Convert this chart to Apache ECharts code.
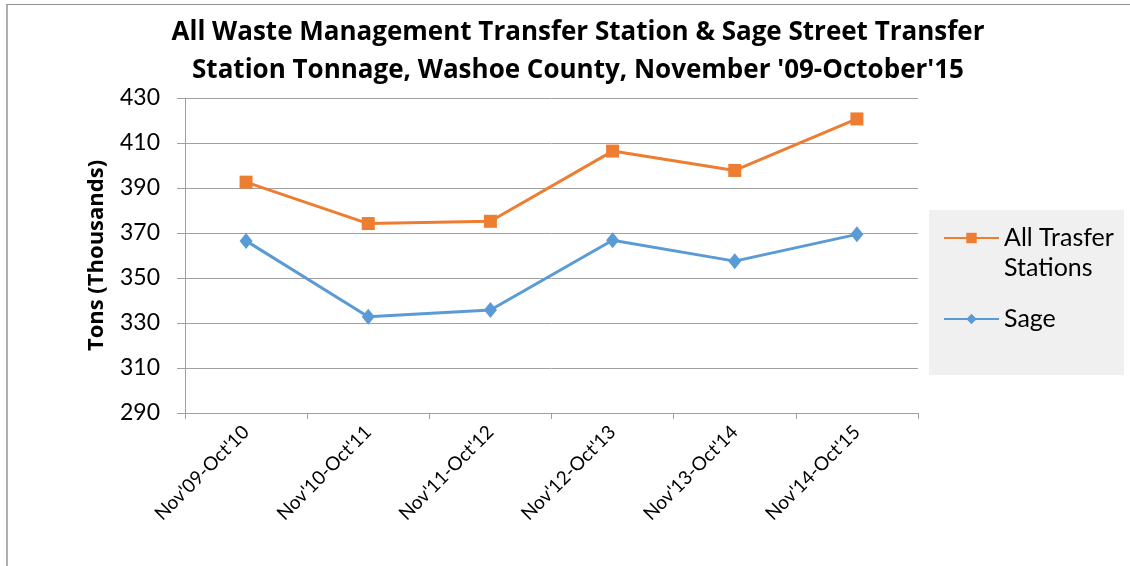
<!DOCTYPE html>
<html>
<head>
<meta charset="utf-8">
<script src="https://cdn.jsdelivr.net/npm/echarts@6/dist/echarts.min.js"></script>
<style>
  html, body { margin: 0; padding: 0; background: #fff; overflow: hidden; }
  #chart { position: absolute; left: 0; top: 0; width: 1130px; height: 566px; }
  #frame { position: absolute; left: 6px; top: 4px; width: 1200px; height: 700px;
           border-left: 2px solid #b0b0b0; border-top: 1px solid #909090; }
</style>
</head>
<body>
<div id="frame"></div>
<div id="chart"></div>
<script>
// 数据
const categories = ["Nov'09-Oct'10", "Nov'10-Oct'11", "Nov'11-Oct'12", "Nov'12-Oct'13", "Nov'13-Oct'14", "Nov'14-Oct'15"];
const allStations = [392.6, 374.2, 375.2, 406.4, 397.8, 420.7];
const sage = [366.5, 332.8, 335.8, 366.8, 357.5, 369.4];

const font = 'Lato, "Open Sans", sans-serif';
const boldFont = '"Open Sans", Lato, sans-serif';
const chart = echarts.init(document.getElementById('chart'));

const option = {
  animation: false,
  textStyle: { fontFamily: font },
  title: {
    text: "All Waste Management Transfer Station & Sage Street Transfer\nStation Tonnage, Washoe County, November '09-October'15",
    left: 573, textAlign: 'center', top: 9,
    textStyle: { fontFamily: boldFont, fontSize: 26, fontWeight: 'bold', color: '#000', lineHeight: 38 }
  },
  graphic: [{
    type: 'rect', left: 929, top: 210,
    shape: { width: 195, height: 165 },
    style: { fill: '#f0f0f0' }
  }],
  legend: {
    orient: 'vertical', left: 938, top: 188,
    itemWidth: 55, itemHeight: 13, itemGap: 21,
    textStyle: { fontFamily: font, fontSize: 25, color: '#000', lineHeight: 30 },
    data: [
      { name: ' \nAll Trasfer\nStations' },
      { name: 'Sage' }
    ]
  },
  grid: { left: 185, right: 212, top: 98, bottom: 153 },
  xAxis: {
    type: 'category', data: categories, boundaryGap: true,
    axisLine: { lineStyle: { color: '#a0a0a0', width: 1 } },
    axisTick: { show: true, alignWithLabel: false, length: 6, lineStyle: { color: '#a0a0a0' } },
    axisLabel: { rotate: 45, fontSize: 19, color: '#000', margin: 16, fontFamily: font }
  },
  yAxis: {
    type: 'value', min: 290, max: 430, interval: 20,
    name: 'Tons (Thousands)', nameLocation: 'middle', nameGap: 77,
    nameTextStyle: { fontSize: 22, fontWeight: 'bold', color: '#000', fontFamily: boldFont },
    axisLine: { show: true, lineStyle: { color: '#a0a0a0' } },
    axisTick: { show: true, length: 8, lineStyle: { color: '#a0a0a0' } },
    axisLabel: { fontSize: 23, color: '#000', margin: 25, fontFamily: font },
    splitLine: { lineStyle: { color: '#a0a0a0', width: 1 } }
  },
  series: [
    {
      name: ' \nAll Trasfer\nStations', type: 'line', data: allStations,
      symbol: 'rect', symbolSize: 13,
      lineStyle: { color: '#ED7D31', width: 3 },
      itemStyle: { color: '#ED7D31' }
    },
    {
      name: 'Sage', type: 'line', data: sage,
      symbol: 'diamond', symbolSize: [13, 16],
      lineStyle: { color: '#5B9BD5', width: 3 },
      itemStyle: { color: '#5B9BD5' }
    }
  ]
};
chart.setOption(option);
</script>
</body>
</html>
